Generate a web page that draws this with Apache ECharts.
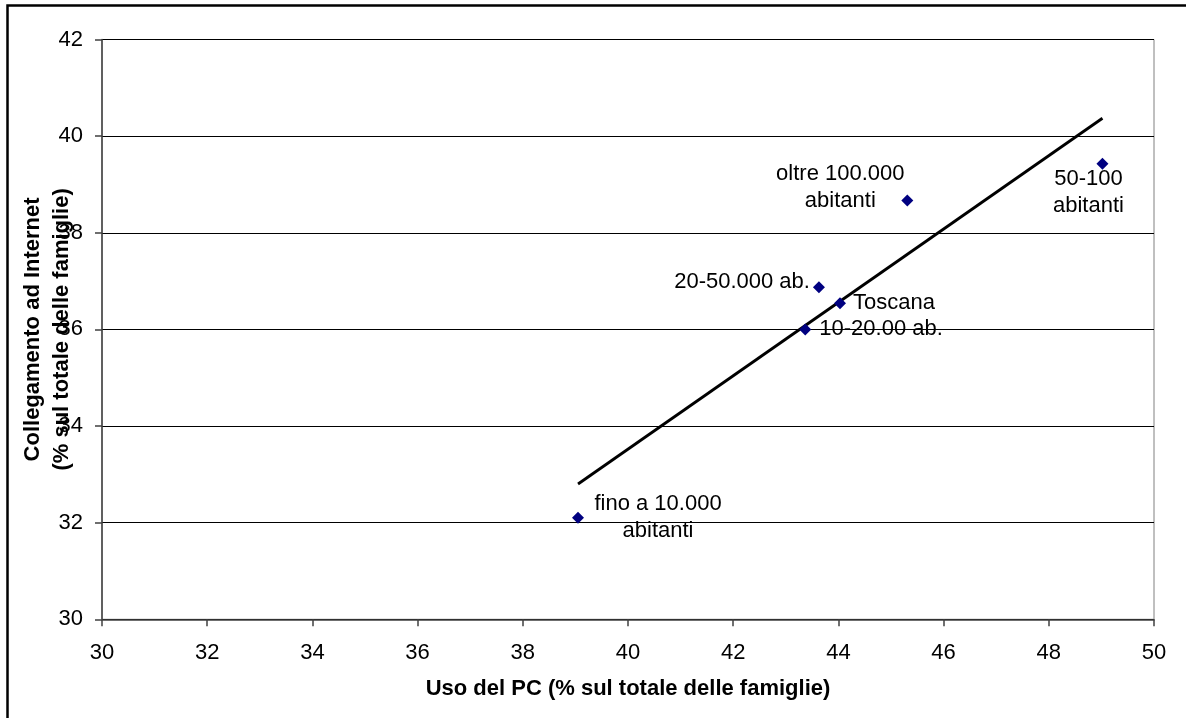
<!DOCTYPE html>
<html>
<head>
<meta charset="utf-8">
<script src="https://cdn.jsdelivr.net/npm/echarts@6/dist/echarts.min.js"></script>
<style>
html,body{margin:0;padding:0;background:#fff;}
#chart{width:1186px;height:718px;}
</style>
</head>
<body>
<div id="chart"></div>
<script>
// ---- data ----
const pointNames = ['fino a 10.000\nabitanti', '10-20.00 ab.', 'Toscana', '20-50.000 ab.', 'oltre 100.000\nabitanti', '50-100\nabitanti'];
const usoPC = [39.05, 43.37, 44.03, 43.63, 45.31, 49.02];
const collegamento = [32.10, 36.00, 36.54, 36.87, 38.67, 39.43];
const trendX = [39.05, 49.02];
const trendY = [32.80, 40.37];
const xTicks = [30, 32, 34, 36, 38, 40, 42, 44, 46, 48, 50];
const yTicks = [30, 32, 34, 36, 38, 40, 42];

// ---- label layout (style only): anchor offset from point centre ----
const labelLayoutCfg = [
  {align: 'center', dx: 80, dy: 0},
  {align: 'left', dx: 14, dy: 0},
  {align: 'left', dx: 13, dy: 0},
  {align: 'right', dx: -9, dy: -5},
  {align: 'center', dx: -67, dy: -13},
  {align: 'center', dx: -14, dy: 29}
];

const FONT = 'Liberation Sans, Arial, sans-serif';
const SYM = 12;

const scatterData = usoPC.map((x, i) => ({
  value: [x, collegamento[i]],
  name: pointNames[i],
  label: {
    show: true,
    position: [SYM / 2 + labelLayoutCfg[i].dx, SYM / 2 + labelLayoutCfg[i].dy],
    align: labelLayoutCfg[i].align,
    verticalAlign: 'middle',
    color: '#000',
    fontFamily: FONT,
    fontSize: 22,
    lineHeight: 27,
    formatter: pointNames[i]
  }
}));

const chart = echarts.init(document.getElementById('chart'), null, {renderer: 'canvas'});
chart.setOption({
  animation: false,
  backgroundColor: '#ffffff',
  grid: {
    left: 102, right: 32, top: 39.5, bottom: 98.7,
    containLabel: false,
    outerBoundsMode: 'none',
    show: true, borderColor: '#808080', borderWidth: 1, backgroundColor: 'transparent'
  },
  xAxis: {
    type: 'value',
    min: xTicks[0], max: xTicks[xTicks.length - 1], interval: 2,
    name: 'Uso del PC (% sul totale delle famiglie)',
    nameLocation: 'middle',
    nameGap: 59,
    nameMoveOverlap: false,
    nameTextStyle: {fontFamily: FONT, fontSize: 22, fontWeight: 'bold', color: '#000'},
    axisLine: {show: true, onZero: false, lineStyle: {color: '#404040', width: 1.5}},
    axisTick: {show: true, length: 7, lineStyle: {color: '#404040', width: 1.5}},
    axisLabel: {fontFamily: FONT, fontSize: 22, color: '#000', margin: 23},
    splitLine: {show: false}
  },
  yAxis: {
    type: 'value',
    min: yTicks[0], max: yTicks[yTicks.length - 1], interval: 2,
    name: 'Collegamento ad Internet\n(% sul totale delle famiglie)',
    nameLocation: 'middle',
    nameGap: 26,
    nameMoveOverlap: false,
    nameTextStyle: {fontFamily: FONT, fontSize: 22, fontWeight: 'bold', color: '#000', lineHeight: 29},
    axisLine: {show: true, onZero: false, lineStyle: {color: '#404040', width: 1.5}},
    axisTick: {show: true, length: 7, lineStyle: {color: '#404040', width: 1.5}},
    axisLabel: {fontFamily: FONT, fontSize: 22, color: '#000', margin: 19},
    splitLine: {show: true, lineStyle: {color: '#000', width: 1}}
  },
  graphic: [{
    type: 'polyline',
    silent: true,
    shape: {points: [[7.5, 800], [7.5, 5.5], [1300, 5.5]]},
    style: {stroke: '#000', lineWidth: 2.5, fill: null}
  }],
  series: [
    {
      type: 'line',
      data: trendX.map((x, i) => [x, trendY[i]]),
      symbol: 'none',
      lineStyle: {color: '#000', width: 2.8},
      silent: true,
      z: 2
    },
    {
      type: 'scatter',
      data: scatterData,
      symbol: 'diamond',
      symbolSize: SYM,
      itemStyle: {color: '#000080', opacity: 1},
      z: 3
    }
  ]
});
</script>
</body>
</html>
